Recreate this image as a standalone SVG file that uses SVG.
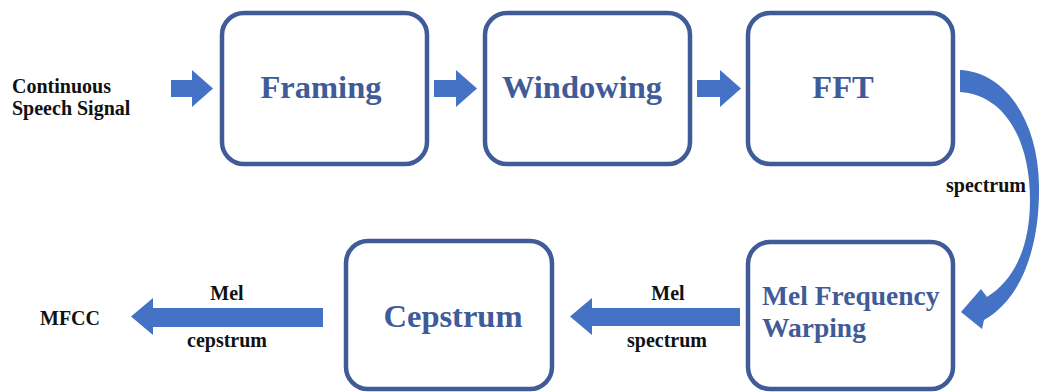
<svg xmlns="http://www.w3.org/2000/svg" width="1039" height="392" viewBox="0 0 1039 392">
<style>
.box{fill:#fff;stroke:#3f5b98;stroke-width:4.5}
.arr{fill:#4472c4}
.lbl{font-family:"Liberation Serif","Times New Roman",serif;font-weight:bold;fill:#3f5b98;font-size:32.5px}
.sm{font-family:"Liberation Serif","Times New Roman",serif;font-weight:bold;fill:#111;font-size:20px}
</style>
<rect width="1039" height="392" fill="#fff"/>
<g id="connectors">
<path class="arr" d="M171 80 H192 V70 L213 88.5 L192 107 V97 H171 Z"/>
<path class="arr" d="M434 80 H456 V70 L477 88.5 L456 107 V97 H434 Z"/>
<path class="arr" d="M697 80 H720 V70 L741 88.5 L720 107 V97 H697 Z"/>
<path class="arr" d="M960 70 C1005 72 1038 120 1039 185 C1040 250 1020 300 984 320 L982 329 L961 312 L981 289 L987 297 C1012 282 1030 250 1030 200 C1030 140 1005 95 960 92 Z"/>
<path class="arr" d="M740 308 H592 V298 L570 316.5 L592 335 V326 H740 Z"/>
<path class="arr" d="M323 308 H153 V298 L131 316.5 L153 335 V327 H323 Z"/>
</g>
<g id="input"><text class="sm" x="12" y="93">Continuous</text><text class="sm" x="12" y="115">Speech Signal</text></g>
<g id="framing"><rect class="box" x="222" y="13" width="205" height="151" rx="22"/><text class="lbl" x="321" y="98" text-anchor="middle">Framing</text></g>
<g id="windowing"><rect class="box" x="485" y="13" width="205" height="151" rx="22"/><text class="lbl" x="582" y="98" text-anchor="middle">Windowing</text></g>
<g id="fft"><rect class="box" x="748" y="13" width="205" height="151" rx="22"/><text class="lbl" x="843" y="98" text-anchor="middle">FFT</text></g>
<g id="spectrum-label"><text class="sm" x="986" y="192" text-anchor="middle">spectrum</text></g>
<g id="melwarp"><rect class="box" x="748" y="242" width="205" height="147" rx="22"/><text class="lbl" x="762" y="305" style="font-size:27.5px">Mel Frequency</text><text class="lbl" x="762" y="337" style="font-size:27.5px">Warping</text></g>
<g id="mel-spectrum-label"><text class="sm" x="668" y="300" text-anchor="middle">Mel</text><text class="sm" x="667" y="347" text-anchor="middle">spectrum</text></g>
<g id="cepstrum"><rect class="box" x="346" y="241" width="206" height="148" rx="22"/><text class="lbl" x="453" y="327" text-anchor="middle">Cepstrum</text></g>
<g id="mel-cepstrum-label"><text class="sm" x="227" y="300" text-anchor="middle">Mel</text><text class="sm" x="227" y="347" text-anchor="middle">cepstrum</text></g>
<g id="output"><text class="sm" x="40" y="325">MFCC</text></g>
</svg>
